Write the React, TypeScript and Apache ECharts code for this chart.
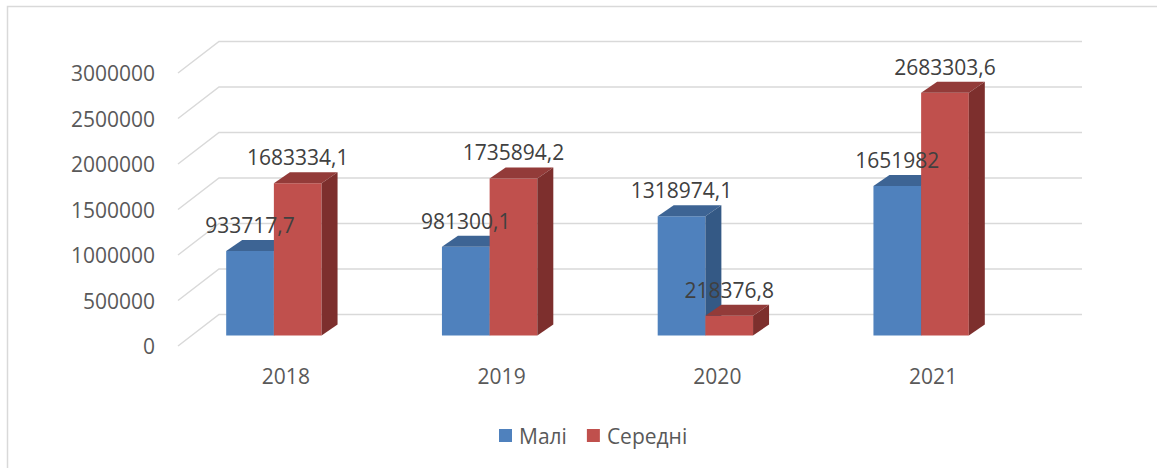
import React, { useEffect, useRef } from 'react';
import * as echarts from 'echarts';

const categories = ['2018', '2019', '2020', '2021'];
const seriesNames = ['Малі', 'Середні'];
const maliValues = [933717.7, 981300.1, 1318974.1, 1651982];
const seredniValues = [1683334.1, 1735894.2, 218376.8, 2683303.6];
const yTicks = [0, 500000, 1000000, 1500000, 2000000, 2500000, 3000000];

const FONT = '"Open Sans", "Noto Sans", sans-serif';
const DX = 16;
const DY = -11;
const WALL_DX = 41;
const WALL_DY = -31.6;

const palettes = [
  { front: '#4F81BD', top: '#3D6494', side: '#345985' },
  { front: '#C0504D', top: '#933B39', side: '#7D2F2D' },
];

const fmt = (v: number) => String(v).replace('.', ',');

function makeBarRender(sideIdx: number) {
  const c = palettes[sideIdx];
  return (params: any, api: any) => {
    const idx = api.value(0);
    const val = api.value(1);
    const top = api.coord([idx, val]);
    const base = api.coord([idx, 0]);
    const band = api.size([1, 0])[0];
    const w = band * 0.221;
    const x0 = sideIdx === 0 ? top[0] - w : top[0];
    const x1 = x0 + w;
    const yt = top[1];
    const yb = base[1];
    return {
      type: 'group',
      children: [
        { type: 'rect', shape: { x: x0, y: yt, width: w, height: yb - yt }, style: { fill: c.front } },
        {
          type: 'polygon',
          shape: { points: [[x0, yt], [x0 + DX, yt + DY], [x1 + DX, yt + DY], [x1, yt]] },
          style: { fill: c.top },
        },
        {
          type: 'polygon',
          shape: { points: [[x1, yt], [x1 + DX, yt + DY], [x1 + DX, yb + DY], [x1, yb]] },
          style: { fill: c.side },
        },
      ],
    };
  };
}

function makeLabelRender(sideIdx: number) {
  return (params: any, api: any) => {
    const idx = api.value(0);
    const val = api.value(1);
    const top = api.coord([idx, val]);
    const band = api.size([1, 0])[0];
    const w = band * 0.221;
    const cx = sideIdx === 0 ? top[0] - w / 2 : top[0] + w / 2;
    return {
      type: 'text',
      x: cx,
      y: top[1] - 26,
      style: {
        text: fmt(val),
        fill: '#404040',
        fontSize: 21,
        fontFamily: FONT,
        align: 'center',
        verticalAlign: 'middle',
      },
    };
  };
}

function gridRender(params: any, api: any) {
  const v = api.value(1);
  const y = api.coord([0, v])[1];
  const cs = params.coordSys;
  const x0 = cs.x;
  const xEnd = cs.x + cs.width + WALL_DX;
  return {
    type: 'polyline',
    shape: { points: [[x0, y], [x0 + WALL_DX, y + WALL_DY], [xEnd, y + WALL_DY]] },
    style: { stroke: '#D9D9D9', lineWidth: 1.5, fill: 'none' },
  };
}

export default function App() {
  const ref = useRef<HTMLDivElement>(null);
  useEffect(() => {
    if (!ref.current) return;
    const chart = echarts.init(ref.current, undefined, { renderer: 'svg' });
    const maliData = maliValues.map((v, i) => [i, v]);
    const seredniData = seredniValues.map((v, i) => [i, v]);
    chart.setOption({
      animation: false,
      backgroundColor: '#ffffff',
      graphic: [
        {
          type: 'rect',
          shape: { x: 7.5, y: 6.5, width: 1300, height: 600 },
          style: { fill: 'none', stroke: '#D9D9D9', lineWidth: 1.5 },
          silent: true,
        },
      ],
      legend: {
        data: seriesNames,
        left: 494,
        top: 420,
        icon: 'rect',
        itemWidth: 13,
        itemHeight: 13,
        itemGap: 20,
        textStyle: { fontSize: 21, fontFamily: FONT, color: '#595959', padding: [0, 0, 0, 2] },
      },
      grid: [
        { left: 178, right: 116, top: 73, bottom: 122 },
        { left: 166, right: 128, top: 64, bottom: 132.5 },
      ],
      xAxis: [
        {
          type: 'category',
          gridIndex: 0,
          data: categories,
          axisLine: { show: false },
          axisTick: { show: false },
          axisLabel: { margin: 19, fontSize: 21, fontFamily: FONT, color: '#595959' },
        },
        {
          type: 'category',
          gridIndex: 1,
          data: categories,
          show: false,
        },
      ],
      yAxis: [
        {
          type: 'value',
          gridIndex: 0,
          min: 0,
          max: 3000000,
          interval: 500000,
          axisLine: { show: false },
          axisTick: { show: false },
          splitLine: { show: false },
          axisLabel: {
            margin: 23,
            fontSize: 21,
            fontFamily: FONT,
            color: '#595959',
            formatter: (v: number) => String(v),
          },
        },
        {
          type: 'value',
          gridIndex: 1,
          min: 0,
          max: 3000000,
          show: false,
        },
      ],
      series: [
        {
          type: 'custom',
          name: 'grid',
          xAxisIndex: 0,
          yAxisIndex: 0,
          data: yTicks.map((v) => [0, v]),
          renderItem: gridRender,
          silent: true,
          z: 1,
        },
        {
          type: 'custom',
          name: seriesNames[0],
          xAxisIndex: 1,
          yAxisIndex: 1,
          data: maliData,
          itemStyle: { color: palettes[0].front },
          renderItem: makeBarRender(0),
          z: 2,
        },
        {
          type: 'custom',
          name: seriesNames[1],
          xAxisIndex: 1,
          yAxisIndex: 1,
          data: seredniData,
          itemStyle: { color: palettes[1].front },
          renderItem: makeBarRender(1),
          z: 3,
        },
        {
          type: 'custom',
          name: 'labels0',
          xAxisIndex: 1,
          yAxisIndex: 1,
          data: maliData,
          renderItem: makeLabelRender(0),
          silent: true,
          z: 10,
        },
        {
          type: 'custom',
          name: 'labels1',
          xAxisIndex: 1,
          yAxisIndex: 1,
          data: seredniData,
          renderItem: makeLabelRender(1),
          silent: true,
          z: 10,
        },
      ],
    });
    return () => chart.dispose();
  }, []);
  return <div ref={ref} style={{ position: 'fixed', left: 0, top: 0, width: 1157, height: 468 }} />;
}
